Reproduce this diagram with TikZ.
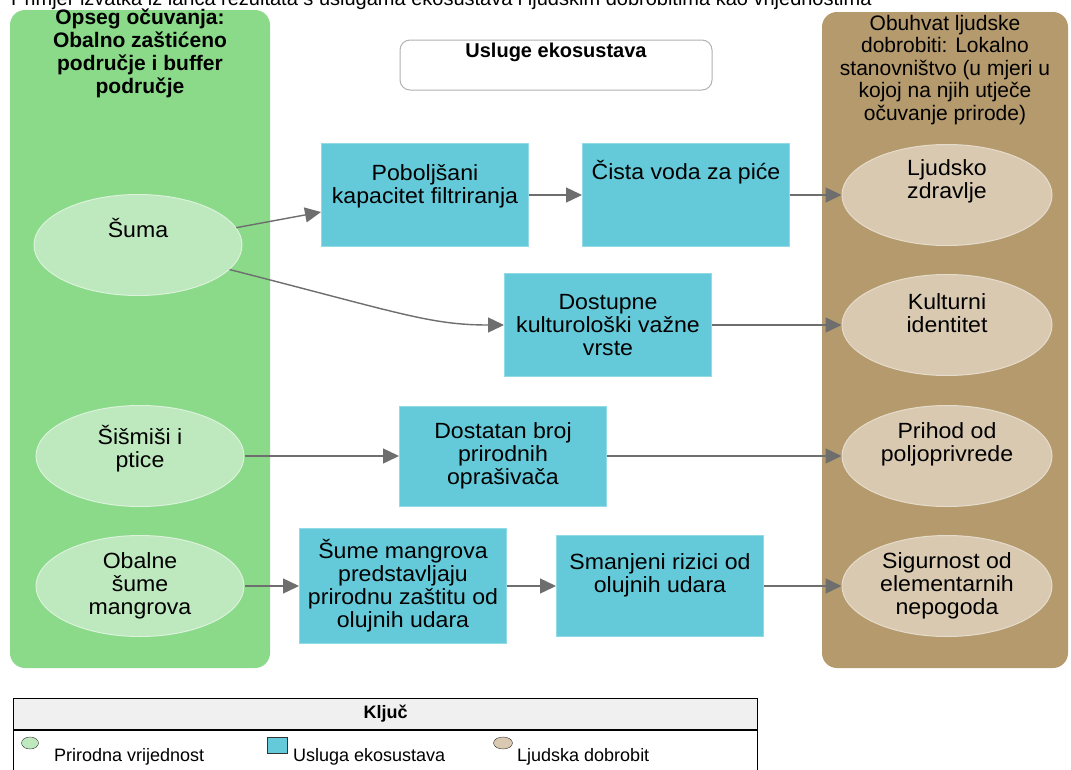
\documentclass[tikz,border=0pt]{standalone}
\usepackage{fontspec}
\setmainfont{Liberation Sans}
\newfontfamily\bodyfont{Liberation Sans}[FakeStretch=1.05]
\usetikzlibrary{shapes.geometric,arrows.meta}
\definecolor{consgreen}{RGB}{138,218,138}
\definecolor{natgreen}{RGB}{190,232,190}
\definecolor{wellbrown}{RGB}{180,154,108}
\definecolor{humbrown}{RGB}{217,201,177}
\definecolor{svcblue}{RGB}{100,202,218}
\definecolor{flowgray}{RGB}{110,110,110}
\definecolor{keygray}{RGB}{240,240,240}

\begin{document}
\begin{tikzpicture}[x=1pt,y=1pt]
\tikzstyle{every node}+=[inner sep=1pt]
\tikzstyle{txt}=[font=\bodyfont\fontsize{22}{23}\selectfont, align=center]
\tikzstyle{panel}=[rectangle, rounded corners=15pt]
\tikzstyle{nat}=[txt, ellipse, inner sep=0pt, fill=natgreen, draw=white!45!natgreen, line width=1pt, minimum width=208, minimum height=101]
\tikzstyle{hum}=[txt, ellipse, inner sep=0pt, fill=humbrown, draw=white!35!humbrown, line width=1pt, minimum width=210, minimum height=101]
\tikzstyle{svc}=[txt, rectangle, fill=svcblue, draw=white!30!svcblue, line width=1pt, minimum width=207, minimum height=103]
\tikzstyle{flow}=[draw=flowgray, line width=1.4pt, -{Triangle[length=16pt,width=15pt,fill=flowgray]}]
\tikzstyle{keytxt}=[anchor=base west, font=\fontsize{18}{20}\selectfont]
\useasboundingbox (0,0) rectangle (1071,-769);
\fill[white] (0,0) rectangle (1071,-769);

\node[anchor=base west, font=\fontsize{20}{24}\selectfont] (caption) at (10,-5) {Primjer izvatka iz lanca rezultata s uslugama ekosustava i ljudskim dobrobitima kao vrijednostima};

\node[panel, fill=consgreen, minimum width=260, minimum height=658] (scope) at (140,-339) {};
\node[panel, fill=wellbrown, minimum width=246, minimum height=656] (people) at (945,-340) {};
\node[align=center, font=\bfseries\fontsize{21}{23}\selectfont] (scopettl) at (140,-53) {Opseg očuvanja:\\Obalno zaštićeno\\područje i buffer\\područje};
\node[align=center, font=\fontsize{21}{22.5}\selectfont] (peoplettl) at (945,-70) {Obuhvat ljudske\\dobrobiti: Lokalno\\stanovništvo (u mjeri u\\kojoj na njih utječe\\očuvanje prirode)};
\node[rectangle, rounded corners=10pt, draw=black!30, line width=1pt, fill=white, minimum width=312, minimum height=50, font=\bfseries\fontsize{20}{24}\selectfont, text depth=30pt, inner sep=2pt] (eshead) at (556,-65) {Usluge ekosustava};

\node[nat, text depth=34pt] (forest) at (138,-245) {Šuma};
\node[nat, text depth=20pt] (bats) at (140,-456) {Šišmiši i\\ptice};
\node[nat] (mangr) at (140,-586) {Obalne\\šume\\mangrova};

\node[svc, text depth=22pt] (filter) at (425,-195) {Poboljšani\\kapacitet filtriranja};
\node[svc, text depth=50pt] (water) at (686,-195) {Čista voda za piće};
\node[svc] (species) at (608,-325) {Dostupne\\kulturološki važne\\vrste};
\node[svc, minimum height=100] (pollin) at (503,-456) {Dostatan broj\\prirodnih\\oprašivača};
\node[svc, minimum height=115] (buffer) at (403,-586) {Šume mangrova\\predstavljaju\\prirodnu zaštitu od\\olujnih udara};
\node[svc, minimum height=101, text depth=25pt] (storm) at (660,-586) {Smanjeni rizici od\\olujnih udara};

\node[hum, text depth=31pt] (health) at (947,-195) {Ljudsko\\zdravlje};
\node[hum, text depth=23pt] (culture) at (947,-325) {Kulturni\\identitet};
\node[hum, text depth=27pt] (income) at (947,-456) {Prihod od\\poljoprivrede};
\node[hum] (safety) at (947,-586) {Sigurnost od\\elementarnih\\nepogoda};

\draw[flow] (forest.10) -- ([yshift=-17pt]filter.west);
\draw[flow] (filter) -- (water);
\draw[flow] (water) -- (health);
\draw[flow] (forest.-15) .. controls (400,-313) and (430,-325) .. (species.west);
\draw[flow] (species) -- (culture);
\draw[flow] (bats) -- (pollin);
\draw[flow] (pollin) -- (income);
\draw[flow] (mangr) -- (buffer);
\draw[flow] (buffer) -- (storm);
\draw[flow] (storm) -- (safety);

\node[rectangle, draw, line width=1.2pt, fill=keygray, minimum width=744, minimum height=31, anchor=north west, font=\bfseries\fontsize{18}{20}\selectfont] (keyhead) at (13,-698) {Ključ};
\node[rectangle, draw, line width=1.2pt, minimum width=744, minimum height=46, anchor=north west] (keybody) at (keyhead.south west) {};
\node[ellipse, draw=black!80, fill=natgreen, minimum width=17, minimum height=12, inner sep=0pt] (keynat) at (30,-743) {};
\node[keytxt] (keynattxt) at (53,-761) {Prirodna vrijednost};
\node[rectangle, draw=black!80, fill=svcblue, minimum width=20, minimum height=16, inner sep=0pt] (keysvc) at (277,-745) {};
\node[keytxt] (keysvctxt) at (292,-761) {Usluga ekosustava};
\node[ellipse, draw=black!80, fill=humbrown, minimum width=19, minimum height=12, inner sep=0pt] (keyhum) at (503,-743) {};
\node[keytxt] (keyhumtxt) at (516,-761) {Ljudska dobrobit};
\end{tikzpicture}
\end{document}
